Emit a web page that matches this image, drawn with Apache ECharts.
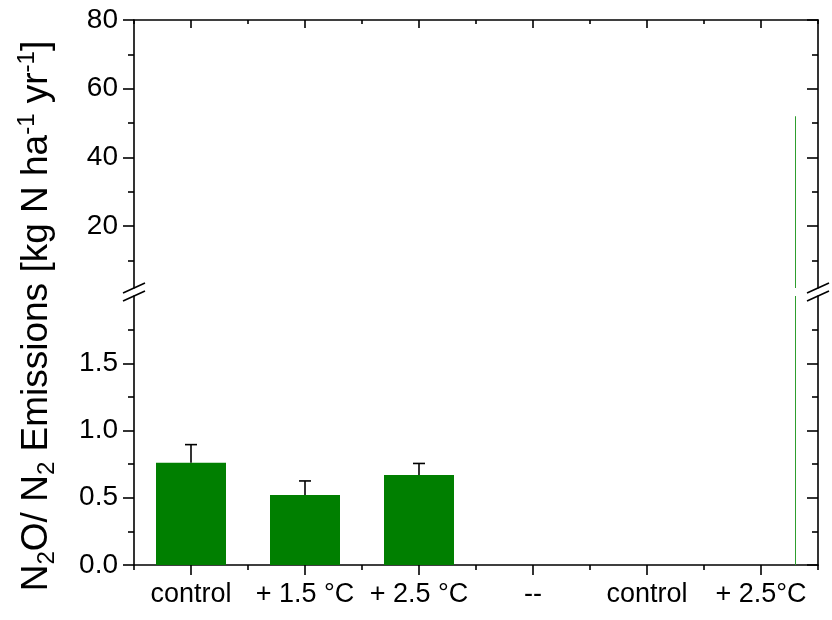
<!DOCTYPE html>
<html>
<head>
<meta charset="utf-8">
<script src="https://cdn.jsdelivr.net/npm/echarts@6/dist/echarts.min.js"></script>
<style>
  html, body { margin: 0; padding: 0; background: #ffffff; }
  #chart { width: 832px; height: 620px; }
</style>
</head>
<body>
<div id="chart"></div>
<script>
// Treatments along the x axis
const categories = ['control', '+ 1.5 °C', '+ 2.5 °C', '--', 'control', '+ 2.5°C'];
// N2O/N2 emissions (kg N ha-1 yr-1) and their standard errors
const emissions = [0.76, 0.52, 0.67, null, 0, 0];
const emissionErr = [0.135, 0.105, 0.085, null, null, null];
// Single high value drawn as a hairline bar through both panels
const highFlux = [null, null, null, null, null, 52];
// Tick values of the two y-axis panels
const lowerTicks = [0, 0.5, 1.0, 1.5];
const lowerMinorTicks = [0.25, 0.75, 1.25, 1.75];
const upperTicks = [20, 40, 60, 80];
const upperMinorTicks = [10, 30, 50, 70];

const FONT = '"Liberation Sans", Arial, sans-serif';
const INK = '#000000';
const BAR_GREEN = '#007f00';
const LINE_GREEN = '#2e9e2e';

// Plot frame and the two stacked panels of the broken y axis
const LEFT = 134, RIGHT = 818;
const UPPER = { top: 20, bottom: 288, min: 2, max: 80 };
const LOWER = { top: 296, bottom: 565, min: 0, max: 2 };

const chart = echarts.init(document.getElementById('chart'), null, { renderer: 'canvas' });

function xAxes(gridIndex, position, major) {
  const inside = position === 'top';
  return {
    type: 'category',
    gridIndex: gridIndex,
    position: position,
    data: categories,
    boundaryGap: true,
    axisLine: { show: major, lineStyle: { color: INK, width: 1.6 } },
    axisTick: {
      show: true,
      inside: inside,
      alignWithLabel: major,
      interval: 0,
      length: major ? (inside ? 8 : 10) : (inside ? 4 : 5),
      lineStyle: { color: INK, width: 1.6 }
    },
    axisLabel: {
      show: major && !inside,
      interval: 0,
      hideOverlap: false,
      margin: 16,
      color: INK,
      fontFamily: FONT,
      fontSize: 27
    },
    splitLine: { show: false }
  };
}

function yAxis(gridIndex, panel, position, ticks, major) {
  const inside = position === 'right';
  return {
    type: 'value',
    gridIndex: gridIndex,
    position: position,
    min: panel.min,
    max: panel.max,
    axisLine: { show: major, onZero: false, lineStyle: { color: INK, width: 1.6 } },
    axisTick: {
      show: true,
      inside: inside,
      customValues: ticks,
      length: major ? 11 : 6,
      lineStyle: { color: INK, width: 1.6 }
    },
    axisLabel: {
      show: major && !inside,
      customValues: ticks,
      margin: 16,
      color: INK,
      fontFamily: FONT,
      fontSize: 28,
      formatter: function (v) {
        return panel.max <= 2 ? v.toFixed(1) : String(Math.round(v));
      }
    },
    splitLine: { show: false }
  };
}

// Bars that fall inside a panel's value range
function inPanel(values, panel) {
  return values.map(v => (v !== null && v > panel.min) ? v : null);
}

const BAR_GAP = '-1.4286%';

function breakMarks(x) {
  const half = 11, rise = 5;
  return [UPPER.bottom, LOWER.top].map(y => ({
    type: 'line',
    z: 100,
    shape: { x1: x - half, y1: y + rise, x2: x + half, y2: y - rise },
    style: { stroke: INK, lineWidth: 1.6 }
  }));
}

const option = {
  animation: false,
  backgroundColor: '#ffffff',
  grid: [
    { left: LEFT, right: 832 - RIGHT, top: UPPER.top, height: UPPER.bottom - UPPER.top },
    { left: LEFT, right: 832 - RIGHT, top: LOWER.top, height: LOWER.bottom - LOWER.top }
  ],
  xAxis: [
    xAxes(1, 'bottom', true),
    xAxes(1, 'bottom', false),
    xAxes(0, 'top', true),
    xAxes(0, 'top', false)
  ],
  yAxis: [
    yAxis(0, UPPER, 'left', upperTicks, true),
    yAxis(0, UPPER, 'left', upperMinorTicks, false),
    yAxis(0, UPPER, 'right', upperTicks, true),
    yAxis(0, UPPER, 'right', upperMinorTicks, false),
    yAxis(1, LOWER, 'left', lowerTicks, true),
    yAxis(1, LOWER, 'left', lowerMinorTicks, false),
    yAxis(1, LOWER, 'right', lowerTicks, true),
    yAxis(1, LOWER, 'right', lowerMinorTicks, false)
  ],
  series: [
    {
      name: 'emissions-upper',
      type: 'bar',
      xAxisIndex: 2, yAxisIndex: 0,
      data: inPanel(emissions, UPPER),
      barWidth: 70, barGap: BAR_GAP,
      itemStyle: { color: BAR_GREEN }
    },
    {
      name: 'high-upper',
      type: 'bar',
      xAxisIndex: 2, yAxisIndex: 0,
      data: highFlux,
      barWidth: 1, barGap: BAR_GAP,
      itemStyle: { color: LINE_GREEN }
    },
    {
      name: 'emissions',
      type: 'bar',
      xAxisIndex: 0, yAxisIndex: 4,
      data: emissions,
      barWidth: 70, barGap: BAR_GAP,
      itemStyle: { color: BAR_GREEN }
    },
    {
      name: 'high-lower',
      type: 'bar',
      xAxisIndex: 0, yAxisIndex: 4,
      data: highFlux,
      barWidth: 1, barGap: BAR_GAP,
      itemStyle: { color: LINE_GREEN }
    },
    {
      name: 'error',
      type: 'custom',
      xAxisIndex: 0, yAxisIndex: 4,
      z: 5,
      data: emissions
        .map((v, i) => [i, v, emissionErr[i]])
        .filter(d => d[1] !== null && d[2] !== null),
      renderItem: function (params, api) {
        const i = api.value(0);
        const base = api.coord([i, api.value(1)]);
        const top = api.coord([i, api.value(1) + api.value(2)]);
        const cap = 6;
        const style = { stroke: INK, lineWidth: 1.6 };
        return {
          type: 'group',
          children: [
            { type: 'line', shape: { x1: base[0], y1: base[1], x2: top[0], y2: top[1] }, style: style },
            { type: 'line', shape: { x1: top[0] - cap, y1: top[1], x2: top[0] + cap, y2: top[1] }, style: style }
          ]
        };
      }
    }
  ],
  graphic: [
    // white gap behind the break symbols
    {
      type: 'rect', z: 99,
      shape: { x: LEFT - 12, y: UPPER.bottom + 1, width: 24, height: LOWER.top - UPPER.bottom - 2 },
      style: { fill: '#ffffff' }
    },
    {
      type: 'rect', z: 99,
      shape: { x: RIGHT - 12, y: UPPER.bottom + 1, width: 24, height: LOWER.top - UPPER.bottom - 2 },
      style: { fill: '#ffffff' }
    },
    ...breakMarks(LEFT),
    ...breakMarks(RIGHT),
    {
      type: 'text',
      x: 37, y: 316,
      rotation: Math.PI / 2,
      style: {
        text: 'N{sub|2}O/ N{sub|2} Emissions [kg N ha{sup|-1} yr{sup|-1}]',
        fill: INK,
        font: '37px ' + FONT,
        align: 'center',
        verticalAlign: 'middle',
        lineHeight: 44,
        rich: {
          sub: { fontSize: 24, fontFamily: FONT, fill: INK, verticalAlign: 'bottom', lineHeight: 22 },
          sup: { fontSize: 24, fontFamily: FONT, fill: INK, verticalAlign: 'top', lineHeight: 22 }
        }
      }
    }
  ]
};

chart.setOption(option);
</script>
</body>
</html>
